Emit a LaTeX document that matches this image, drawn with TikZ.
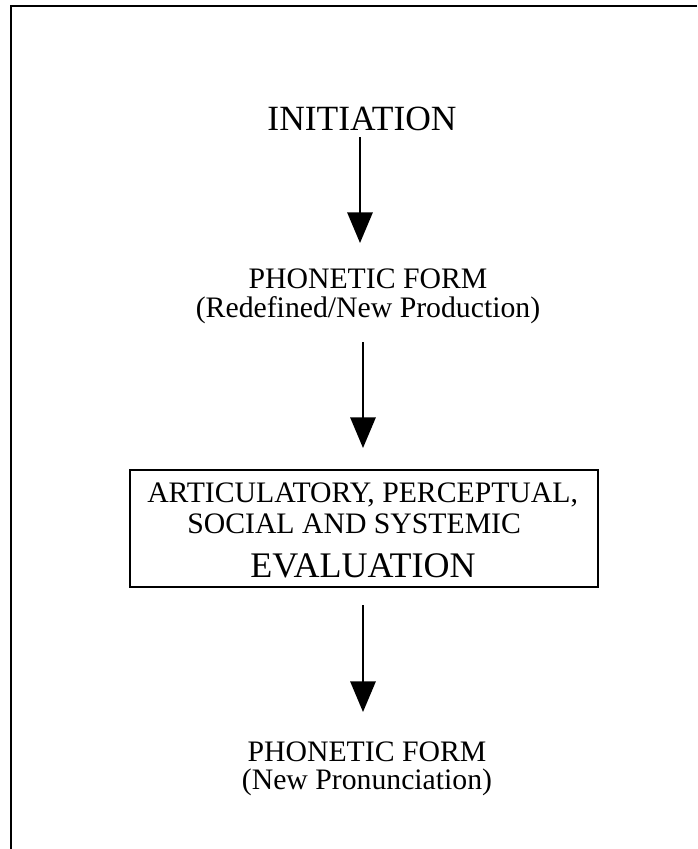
\documentclass[tikz,border=0pt]{standalone}
\usepackage{fontspec}
\setmainfont{Liberation Serif}
\usetikzlibrary{arrows.meta}
\begin{document}
\begin{tikzpicture}[x=0.75pt,y=-0.75pt,
  txt/.style={inner sep=0pt,font=\fontsize{22.3pt}{26pt}\selectfont},
  two/.style={inner sep=0pt,align=center,anchor=north},
  big/.style={inner sep=0pt,font=\fontsize{26.6pt}{30pt}\selectfont},
  arr/.style={line width=1.5pt,-{Triangle[length=23pt,width=19pt]}},
  frame/.style={line width=1.5pt}]
\useasboundingbox (0,0) rectangle (697,849);
\coordinate (tl) at (11,6.5);
\coordinate (tr) at (697,6.5);
\coordinate (bl) at (11,849);
\draw[frame] (tr) -- (tl) -- (bl);
% texts
\node[big,anchor=base] (init) at (362,130) {INITIATION};
\node[two,font=\fontsize{22.3pt}{21.75pt}\selectfont] (pf1) at (368,269)
  {PHONETIC FORM\\(Redefined/New Production)};
\node[draw,line width=1pt,minimum width=468*0.75pt,minimum height=117*0.75pt,inner sep=0pt] (box) at (364,528.5) {};
\node[txt,anchor=base west] (b1) at (147,502) {ARTICULATORY, PERCEPTUAL,};
\node[txt,anchor=base west] (b2) at (187,533) {SOCIAL AND SYSTEMIC};
\node[big,anchor=base west,font=\fontsize{27pt}{30pt}\selectfont] (b3) at (250,577) {EVALUATION};
\node[two,font=\fontsize{22.3pt}{21pt}\selectfont] (pf2) at (367,742)
  {PHONETIC FORM\\(New Pronunciation)};
% arrows
\coordinate (a1s) at (360,137); \coordinate (a1e) at (360,243);
\coordinate (a2s) at (363,342); \coordinate (a2e) at (363,448);
\coordinate (a3s) at (363,605); \coordinate (a3e) at (363,712);
\draw[arr] (a1s) -- (a1e);
\draw[arr] (a2s) -- (a2e);
\draw[arr] (a3s) -- (a3e);
\end{tikzpicture}
\end{document}
